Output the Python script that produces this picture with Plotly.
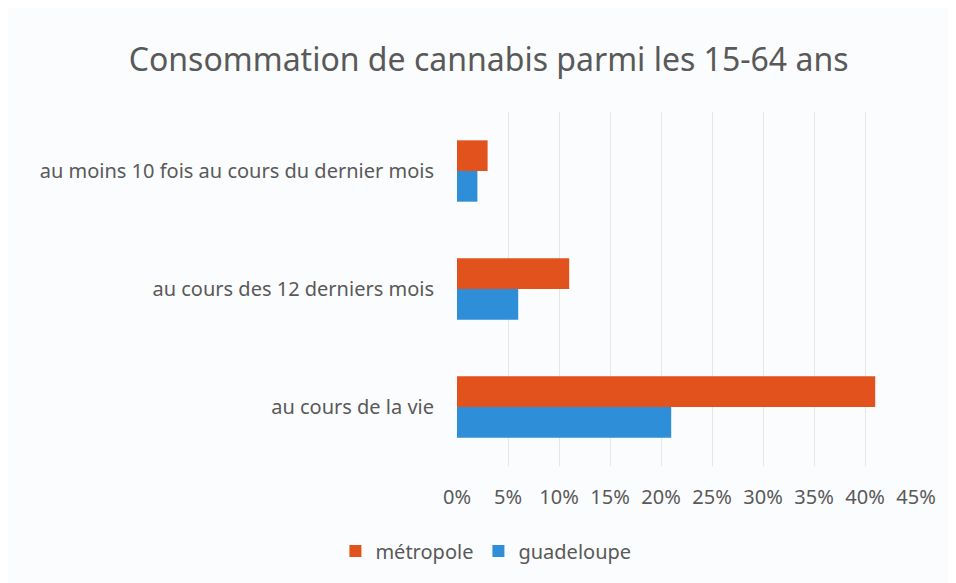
import plotly.graph_objects as go

categories = ["au cours de la vie", "au cours des 12 derniers mois", "au moins 10 fois au cours du dernier mois"]
metropole = [0.41, 0.11, 0.03]
guadeloupe = [0.21, 0.06, 0.02]
tick_vals = [0, 0.05, 0.10, 0.15, 0.20, 0.25, 0.30, 0.35, 0.40, 0.45]
tick_text = ["0%", "5%", "10%", "15%", "20%", "25%", "30%", "35%", "40%", "45%"]

FONT = "Noto Sans"
fig = go.Figure()
fig.add_trace(go.Bar(y=categories, x=guadeloupe, orientation="h", name="guadeloupe",
                     marker=dict(color="#2F8ED8", line=dict(width=0))))
fig.add_trace(go.Bar(y=categories, x=metropole, orientation="h", name="métropole",
                     marker=dict(color="#E2521D", line=dict(width=0))))

fig.update_layout(
    width=948, height=575,
    paper_bgcolor="#fbfcfd", plot_bgcolor="#fbfcfd",
    margin=dict(l=449, r=40, t=104, b=117),
    barmode="group", bargap=0.48, bargroupgap=0,
    font=dict(family=FONT, color="#595959", size=20),
    title=dict(text="Consommation de cannabis parmi les 15-64 ans", x=0.507, xanchor="center",
               y=0.9096, yanchor="middle", font=dict(size=32, family=FONT, color="#595959")),
    xaxis=dict(range=[0, 0.45], tickvals=tick_vals, ticktext=tick_text, showgrid=True,
               gridcolor="#e4e6e8", gridwidth=1, zeroline=False, showline=False,
               ticks="", ticklabelstandoff=17, tickfont=dict(size=20)),
    yaxis=dict(showgrid=False, zeroline=False, showline=False, ticks="",
               ticklabelstandoff=22, tickfont=dict(size=20)),
    legend=dict(orientation="h", x=0.063, xanchor="center", y=-0.24, yanchor="middle",
                traceorder="reversed", font=dict(size=20), itemwidth=30),
)
fig.write_html("out.html")
